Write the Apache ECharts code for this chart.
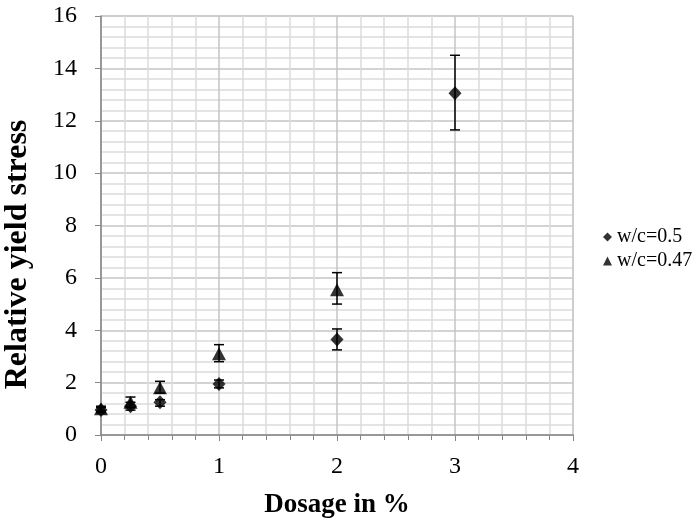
<!DOCTYPE html>
<html>
<head>
<meta charset="utf-8">
<script src="https://cdn.jsdelivr.net/npm/echarts@6/dist/echarts.min.js"></script>
<style>
  html, body { margin: 0; padding: 0; background: #fff; }
  #chart { width: 695px; height: 521px; }
</style>
</head>
<body>
<div id="chart"></div>
<script>
// dosage (%) on x
var dosage = [0, 0.25, 0.5, 1, 2, 3];
// w/c = 0.5 : mean, low, high
var wc50 = [0.95, 1.1, 1.25, 1.95, 3.65, 13.05];
var wc50Low = [0.85, 0.95, 1.1, 1.8, 3.25, 11.65];
var wc50High = [1.05, 1.25, 1.35, 2.1, 4.05, 14.5];
// w/c = 0.47
var dosage47 = [0, 0.25, 0.5, 1, 2];
var wc47 = [1.0, 1.25, 1.8, 3.1, 5.55];
var wc47Low = [0.9, 1.05, 1.6, 2.8, 5.0];
var wc47High = [1.1, 1.45, 2.05, 3.45, 6.2];

var xTicks = [0, 1, 2, 3, 4];
var yTicks = [0, 2, 4, 6, 8, 10, 12, 14, 16];

var font = '"Liberation Serif", "Times New Roman", serif';

function errData(xs, lo, hi) {
    var out = [];
    for (var i = 0; i < xs.length; i++) {
        out.push([xs[i], lo[i], hi[i]]);
    }
    return out;
}

function renderErr(params, api) {
    var x = api.value(0);
    var top = api.coord([x, api.value(2)]);
    var bot = api.coord([x, api.value(1)]);
    var w = 5;
    var st = { stroke: '#000', lineWidth: 1.5 };
    return {
        type: 'group',
        children: [
            { type: 'line', shape: { x1: top[0], y1: top[1], x2: bot[0], y2: bot[1] }, style: st },
            { type: 'line', shape: { x1: top[0] - w, y1: top[1], x2: top[0] + w, y2: top[1] }, style: st },
            { type: 'line', shape: { x1: bot[0] - w, y1: bot[1], x2: bot[0] + w, y2: bot[1] }, style: st }
        ]
    };
}

function pairs(xs, ys) {
    var out = [];
    for (var i = 0; i < xs.length; i++) out.push([xs[i], ys[i]]);
    return out;
}

var myChart = echarts.init(document.getElementById('chart'));

var option = {
    animation: false,
    textStyle: { fontFamily: font },
    grid: {
        left: 101, top: 16, right: 122, bottom: 86,
        outerBoundsMode: 'none',
        containLabel: false,
        show: true, borderColor: '#d9d9d9', borderWidth: 1
    },
    legend: {
        orient: 'vertical',
        left: 598,
        top: 222,
        itemWidth: 9,
        itemHeight: 9,
        itemGap: 4,
        textStyle: { fontFamily: font, fontSize: 20, color: '#000' },
        data: [
            { name: 'w/c=0.5', icon: 'diamond' },
            { name: 'w/c=0.47', icon: 'triangle' }
        ]
    },
    xAxis: {
        type: 'value',
        min: xTicks[0],
        max: xTicks[xTicks.length - 1],
        interval: 1,
        name: 'Dosage in %',
        nameLocation: 'middle',
        nameGap: 57,
        nameTextStyle: { fontFamily: font, fontSize: 27, fontWeight: 'bold', color: '#000' },
        axisLine: { lineStyle: { color: '#868686', width: 1.5 } },
        axisTick: { show: true, length: 6, lineStyle: { color: '#868686' } },
        minorTick: { show: true, splitNumber: 5, length: 5, lineStyle: { color: '#868686' } },
        axisLabel: { fontFamily: font, fontSize: 24, color: '#000', margin: 20 },
        splitLine: { show: true, lineStyle: { color: '#c4c4c4', width: 1.5 } },
        minorSplitLine: { show: true, lineStyle: { color: '#dcdcdc', width: 1.5 } }
    },
    yAxis: {
        type: 'value',
        min: yTicks[0],
        max: yTicks[yTicks.length - 1],
        interval: 2,
        name: 'Relative yield stress',
        nameLocation: 'middle',
        nameGap: 67,
        nameTextStyle: { fontFamily: font, fontSize: 32, fontWeight: 'bold', color: '#000', padding: [0, 58, 0, 0] },
        axisLine: { show: true, lineStyle: { color: '#868686', width: 1.5 } },
        axisTick: { show: true, length: 6, lineStyle: { color: '#868686' } },
        minorTick: { show: false, splitNumber: 5 },
        axisLabel: { fontFamily: font, fontSize: 24, color: '#000', margin: 24 },
        splitLine: { show: true, lineStyle: { color: '#c4c4c4', width: 1.5 } },
        minorSplitLine: { show: true, lineStyle: { color: '#dcdcdc', width: 1.5 } }
    },
    series: [
        {
            name: 'w/c=0.5',
            type: 'scatter',
            symbol: 'diamond',
            symbolSize: [13, 14],
            itemStyle: { color: '#000' },
            data: pairs(dosage, wc50),
            z: 3
        },
        {
            name: 'w/c=0.47',
            type: 'scatter',
            symbol: 'triangle',
            symbolSize: [14, 13],
            itemStyle: { color: '#000' },
            data: pairs(dosage47, wc47),
            z: 3
        },
        {
            name: 'err50',
            type: 'custom',
            renderItem: renderErr,
            data: errData(dosage, wc50Low, wc50High),
            z: 2
        },
        {
            name: 'err47',
            type: 'custom',
            renderItem: renderErr,
            data: errData(dosage47, wc47Low, wc47High),
            z: 2
        }
    ]
};

myChart.setOption(option);
</script>
</body>
</html>
